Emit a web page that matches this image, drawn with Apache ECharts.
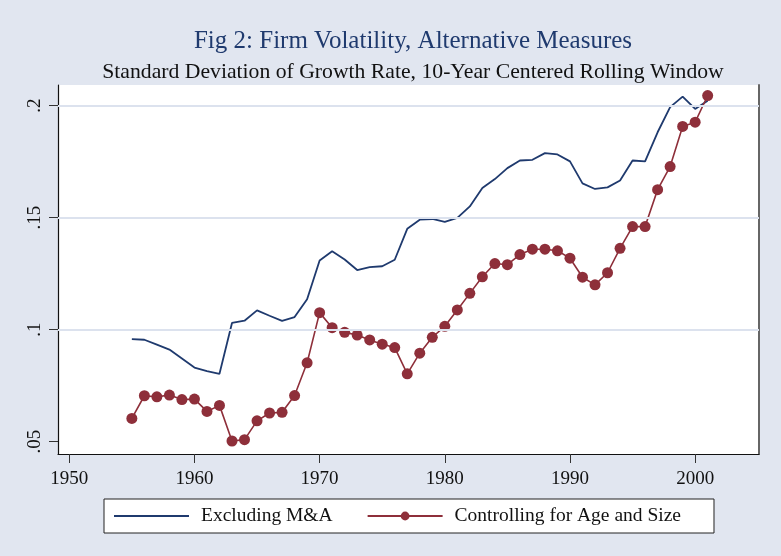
<!DOCTYPE html>
<html>
<head>
<meta charset="utf-8">
<script src="https://cdn.jsdelivr.net/npm/echarts@6/dist/echarts.min.js"></script>
<style>
  html, body { margin: 0; padding: 0; background: #E1E6F0; }
  #chart { width: 781px; height: 556px; }
</style>
</head>
<body>
<div id="chart"></div>
<script>
// Fig 2 data: std. dev. of growth rate, 10-year centered rolling window
const years = [
  1955, 1956, 1957, 1958, 1959, 1960, 1961, 1962, 1963, 1964,
  1965, 1966, 1967, 1968, 1969, 1970, 1971, 1972, 1973, 1974,
  1975, 1976, 1977, 1978, 1979, 1980, 1981, 1982, 1983, 1984,
  1985, 1986, 1987, 1988, 1989, 1990, 1991, 1992, 1993, 1994,
  1995, 1996, 1997, 1998, 1999, 2000, 2001,
];
const excludingMA = [
  0.0958, 0.0955, 0.0933, 0.0911, 0.0871, 0.0831, 0.0815, 0.0803, 0.1030, 0.1040,
  0.1086, 0.1062, 0.1039, 0.1056, 0.1136, 0.1309, 0.1350, 0.1313, 0.1266, 0.1279,
  0.1283, 0.1312, 0.1450, 0.1491, 0.1494, 0.1481, 0.1499, 0.1550, 0.1632, 0.1672,
  0.1721, 0.1755, 0.1758, 0.1788, 0.1782, 0.1751, 0.1653, 0.1628, 0.1635, 0.1666,
  0.1755, 0.1751, 0.1881, 0.1993, 0.2040, 0.1985, 0.2022,
];
const controllingAgeSize = [
  0.0604, 0.0705, 0.0700, 0.0708, 0.0688, 0.0690, 0.0635, 0.0662, 0.0503, 0.0509,
  0.0593, 0.0628, 0.0631, 0.0706, 0.0852, 0.1076, 0.1009, 0.0988, 0.0976, 0.0954,
  0.0935, 0.0920, 0.0803, 0.0895, 0.0966, 0.1015, 0.1088, 0.1162, 0.1236, 0.1295,
  0.1290, 0.1335, 0.1359, 0.1359, 0.1352, 0.1319, 0.1234, 0.1200, 0.1254, 0.1363,
  0.1460, 0.1460, 0.1625, 0.1728, 0.1907, 0.1926, 0.2045,
];
const xTicks = [1950, 1960, 1970, 1980, 1990, 2000];
const yTicks = [0.05, 0.1, 0.15, 0.2];
const yGridLines = [0.1, 0.15, 0.2];
const yTickLabels = ['.05', '.1', '.15', '.2'];

const SERIF = '"Liberation Serif", "DejaVu Serif", serif';
const BLUE = '#1F3A6E';
const RED = '#8E2F3A';
const Y_MIN = 0.0445, Y_MAX = 0.2092;

const chart = echarts.init(document.getElementById('chart'));

const pairs = arr => years.map((y, i) => [y, arr[i]]);

chart.setOption({
  backgroundColor: '#E1E6F0',
  animation: false,
  title: [
    {
      text: 'Fig 2: Firm Volatility, Alternative Measures',
      left: 408, top: 24, textAlign: 'center',
      textStyle: { fontFamily: SERIF, fontSize: 25, fontWeight: 'normal', color: BLUE },
    },
    {
      text: 'Standard Deviation of Growth Rate, 10-Year Centered Rolling Window',
      left: 408, top: 56, textAlign: 'center',
      textStyle: { fontFamily: SERIF, fontSize: 21.7, fontWeight: 'normal', color: '#111' },
    },
  ],
  legend: {
    left: 104, top: 499,
    padding: [7, 33, 7, 9],
    itemGap: 34, itemWidth: 75, itemHeight: 11,
    backgroundColor: '#fff', borderColor: '#222', borderWidth: 1,
    textStyle: { fontFamily: SERIF, fontSize: 19.5, color: '#111', padding: [0, 0, 0, 7] },
    data: [
      { name: 'Excluding M&A', itemStyle: { color: 'transparent', borderColor: 'transparent' } },
      { name: 'Controlling for Age and Size' },
    ],
  },
  grid: { left: 58, right: 22, top: 85, bottom: 102, backgroundColor: '#fff', show: true, borderWidth: 0 },
  xAxis: {
    type: 'value', min: 1949.1, max: 2005.1,
    axisLine: { lineStyle: { color: '#111', width: 1.2 } },
    axisTick: { customValues: xTicks, length: 9, lineStyle: { color: '#333' } },
    axisLabel: {
      customValues: xTicks, margin: 16, fontFamily: SERIF, fontSize: 19, color: '#111',
      formatter: v => String(v),
    },
    splitLine: { show: false },
  },
  yAxis: [
    {
      type: 'value', min: Y_MIN, max: Y_MAX,
      axisLine: { show: true, lineStyle: { color: '#111', width: 1.2 } },
      axisTick: { show: true, customValues: yTicks, length: 9, lineStyle: { color: '#333' } },
      axisLabel: {
        customValues: yTicks, rotate: 90, margin: 13,
        fontFamily: SERIF, fontSize: 19, color: '#111',
        formatter: v => yTickLabels[yTicks.findIndex(t => Math.abs(t - v) < 1e-6)] ?? '',
      },
      splitLine: { show: false },
    },
    {
      type: 'value', min: Y_MIN, max: Y_MAX, position: 'right',
      axisLine: { show: true, lineStyle: { color: '#666', width: 2 } },
      axisTick: { show: false }, axisLabel: { show: false }, splitLine: { show: false },
    },
  ],
  series: [
    {
      name: 'grid', type: 'line', data: [], z: 1, silent: true,
      markLine: {
        silent: true, symbol: 'none', label: { show: false },
        lineStyle: { color: '#DCE2EE', width: 2, type: 'solid' },
        data: yGridLines.map(v => ({ yAxis: v })),
      },
    },
    {
      name: 'Excluding M&A', type: 'line', data: pairs(excludingMA), z: 3,
      showSymbol: false, symbol: 'none',
      lineStyle: { color: BLUE, width: 1.8 }, itemStyle: { color: BLUE },
    },
    {
      name: 'Controlling for Age and Size', type: 'line', data: pairs(controllingAgeSize), z: 4,
      symbol: 'circle', symbolSize: 11,
      lineStyle: { color: RED, width: 1.6 }, itemStyle: { color: RED },
    },
  ],
});
</script>
</body>
</html>
